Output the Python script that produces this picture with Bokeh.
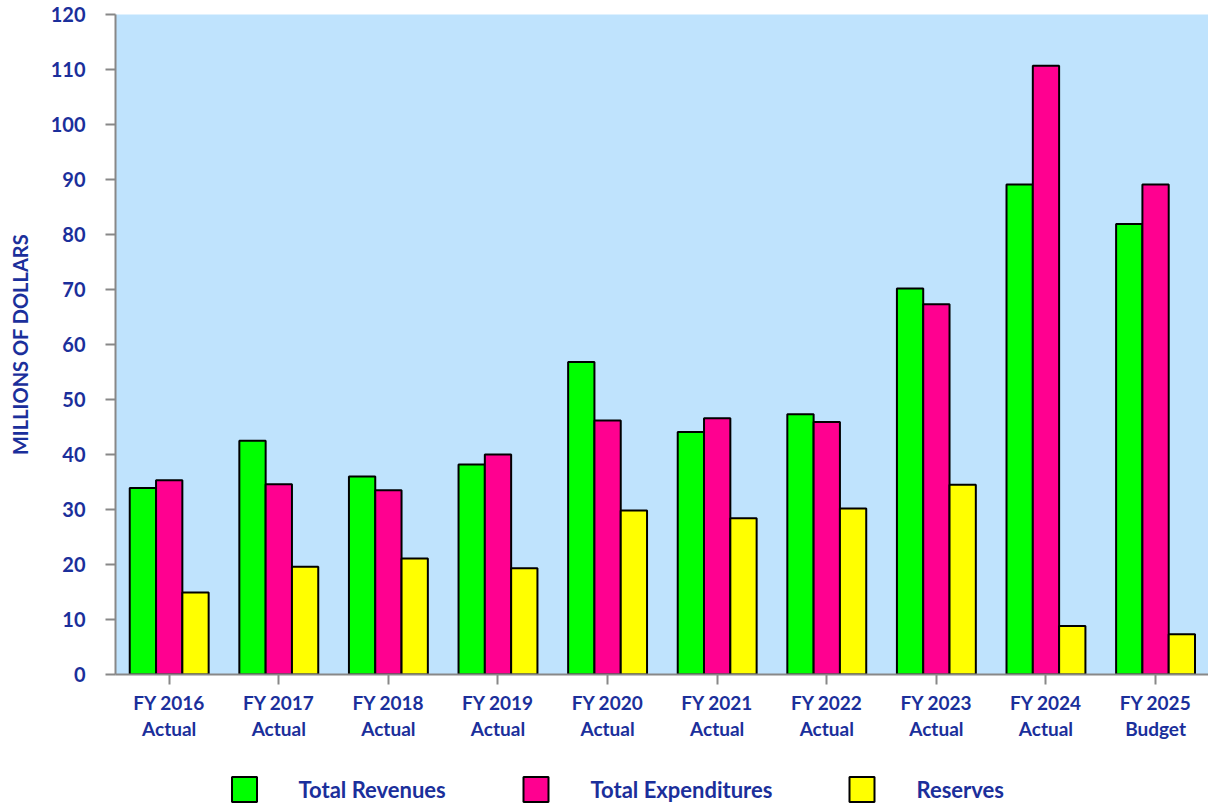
from bokeh.plotting import figure
from bokeh.layouts import column
from bokeh.models import ColumnDataSource, Range1d, FixedTicker
from bokeh.core.properties import value
from bokeh.transform import dodge
from bokeh.embed import file_html
from bokeh.resources import INLINE

# Fiscal years and budget figures (millions of dollars)
years = ["FY 2016", "FY 2017", "FY 2018", "FY 2019", "FY 2020",
         "FY 2021", "FY 2022", "FY 2023", "FY 2024", "FY 2025"]
kinds = ["Actual", "Actual", "Actual", "Actual", "Actual",
         "Actual", "Actual", "Actual", "Actual", "Budget"]
revenues = [33.9, 42.5, 36.0, 38.2, 56.8, 44.1, 47.3, 70.2, 89.1, 81.9]
expenditures = [35.3, 34.6, 33.5, 40.0, 46.2, 46.6, 45.9, 67.3, 110.7, 89.1]
reserves = [14.9, 19.6, 21.1, 19.3, 29.8, 28.4, 30.2, 34.5, 8.8, 7.3]
series_names = ["Total Revenues", "Total Expenditures", "Reserves"]
series_colors = ["#00ff00", "#ff0090", "#ffff00"]
y_ticks = list(range(0, 121, 10))

TEXT = "#1b2f9b"
FONT = "Lato"

idx = list(range(len(years)))
src = ColumnDataSource(dict(idx=idx, rev=revenues, exp=expenditures, res=reserves))

p = figure(width=1208, height=744, output_backend="svg", toolbar_location=None,
           x_range=Range1d(-0.49, 9.483), y_range=Range1d(0, 120),
           min_border_left=115, min_border_right=0, min_border_top=14,
           min_border_bottom=70)
p.background_fill_color = "#bfe3fd"
p.border_fill_color = "white"
p.outline_line_color = None
p.xgrid.grid_line_color = None
p.ygrid.grid_line_color = None

w = 0.24
for off, col, color in zip([-w, 0, w], ["rev", "exp", "res"], series_colors):
    p.vbar(x=dodge("idx", off, range=p.x_range), top=col, width=w, source=src,
           fill_color=color, line_color="black", line_width=2)

# y axis
ya = p.yaxis[0]
ya.ticker = FixedTicker(ticks=y_ticks)
ya.minor_tick_line_color = None
ya.axis_line_color = "#888888"
ya.axis_line_width = 2
ya.major_tick_line_color = "#888888"
ya.major_tick_line_width = 2
ya.major_tick_out = 10
ya.major_tick_in = 0
ya.major_label_standoff = 20
ya.major_label_text_font = FONT
ya.major_label_text_font_style = "bold"
ya.major_label_text_font_size = "20px"
ya.major_label_text_color = TEXT
ya.axis_label = "MILLIONS OF DOLLARS"
ya.axis_label_text_font = FONT
ya.axis_label_text_font_style = "bold"
ya.axis_label_text_font_size = "20px"
ya.axis_label_text_color = TEXT
ya.axis_label_standoff = 16

# x axis with two-line category labels
xa = p.xaxis[0]
xa.ticker = FixedTicker(ticks=idx)
xa.major_label_overrides = {i: f"{y}\n{k}" for i, y, k in zip(idx, years, kinds)}
xa.minor_tick_line_color = None
xa.axis_line_color = "#888888"
xa.axis_line_width = 2
xa.major_tick_line_color = "#888888"
xa.major_tick_line_width = 2
xa.major_tick_out = 10
xa.major_tick_in = 0
xa.major_label_standoff = 6
xa.major_label_text_font = FONT
xa.major_label_text_font_style = "bold"
xa.major_label_text_font_size = "19px"
xa.major_label_text_color = TEXT
xa.major_label_text_line_height = 1.15

# legend strip beneath the chart; its frame lines up with the chart frame,
# so the x range is expressed in page pixels from 115 to 1208
lg = figure(width=1208, height=60, output_backend="svg", toolbar_location=None,
            x_range=Range1d(115, 1208), y_range=Range1d(0, 60),
            min_border=0, outline_line_color=None)
lg.axis.visible = False
lg.grid.visible = False
key_x = [244, 535.5, 861.5]
label_x = [298, 590, 916]
lg.rect(x=key_x, y=[15] * 3, width=25, height=25, fill_color=series_colors,
        line_color="black", line_width=2)
lg.text(x=label_x, y=[15] * 3, text=series_names, text_font=value(FONT),
        text_font_style="bold", text_font_size="22px", text_color=TEXT,
        text_baseline="middle", text_align="left")

open("out.html", "w").write(file_html(column(p, lg, spacing=0), INLINE))
